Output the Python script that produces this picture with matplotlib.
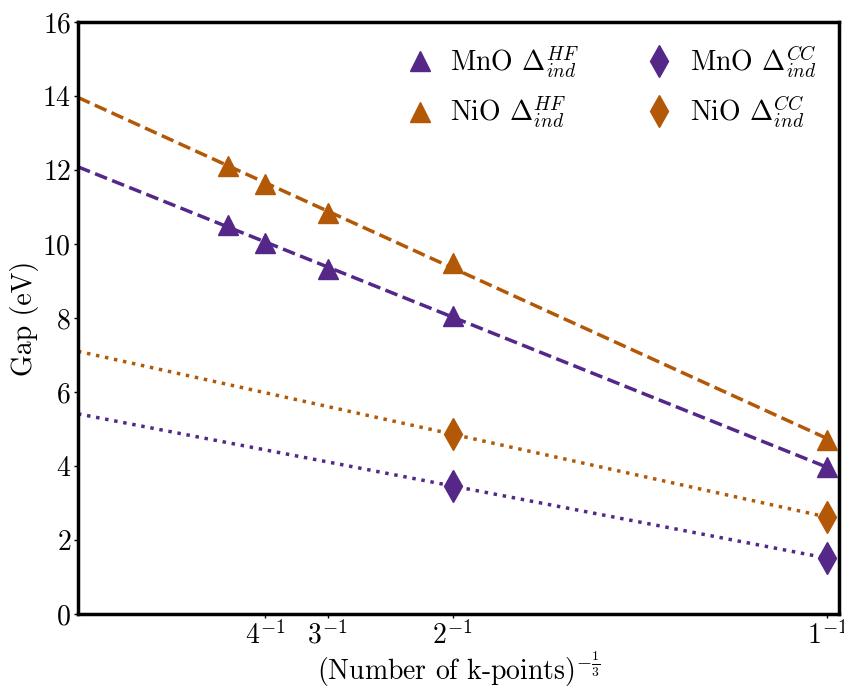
import numpy as np
import matplotlib
matplotlib.use("Agg")
import matplotlib.pyplot as plt

plt.rcParams['font.family'] = 'serif'
plt.rcParams['font.serif'] = ['cmr10']
plt.rcParams['mathtext.fontset'] = 'cm'
plt.rcParams['axes.formatter.use_mathtext'] = True

x_hf = [1/5, 1/4, 1/3, 1/2, 1/1]
mno_hf = [10.52, 10.03, 9.32, 8.05, 3.97]
nio_hf = [12.10, 11.62, 10.84, 9.50, 4.70]
x_cc = [1/2, 1/1]
mno_cc = [3.46, 1.51]
nio_cc = [4.86, 2.62]

xticks = [1/4, 1/3, 1/2, 1/1]
xticklabels = [r'$4^{-1}$', r'$3^{-1}$', r'$2^{-1}$', r'$1^{-1}$']

purple = '#542788'
orange = '#b35806'

fig = plt.figure(figsize=(8.44, 6.86), dpi=100)
ax = fig.add_axes([78/844, 72/686, 761/844, 592/686])

xl = np.array([0.0, 1.0])
for xs, ys, c, ls in [(x_hf, mno_hf, purple, '--'), (x_hf, nio_hf, orange, '--'),
                      (x_cc, mno_cc, purple, ':'), (x_cc, nio_cc, orange, ':')]:
    p = np.polyfit(xs, ys, 1)
    ax.plot(xl, np.polyval(p, xl), color=c, ls=ls, lw=2.5, zorder=1)

ax.plot(x_hf, mno_hf, '^', color=purple, ms=15, ls='none', label=r'MnO $\Delta^{HF}_{ind}$', zorder=3)
ax.plot(x_hf, nio_hf, '^', color=orange, ms=15, ls='none', label=r'NiO $\Delta^{HF}_{ind}$', zorder=3)
ax.plot(x_cc, mno_cc, 'd', color=purple, ms=16, ls='none', label=r'MnO $\Delta^{CC}_{ind}$', zorder=3)
ax.plot(x_cc, nio_cc, 'd', color=orange, ms=16, ls='none', label=r'NiO $\Delta^{CC}_{ind}$', zorder=3)

ax.set_xlim(0, 1.016)
ax.set_ylim(0, 16)
ax.set_xticks(xticks)
ax.set_xticklabels(xticklabels)
ax.set_yticks(range(0, 17, 2))
ax.tick_params(labelsize=20, length=3, width=1, pad=2)
for s in ax.spines.values():
    s.set_linewidth(2.5)
ax.set_xlabel(r'(Number of k-points)$^{-\frac{1}{3}}$', fontsize=20, labelpad=0)
ax.set_ylabel('Gap (eV)', fontsize=20, labelpad=2)

ax.legend(ncol=2, frameon=False, fontsize=20, loc='upper right',
          bbox_to_anchor=(1.0, 1.0), handlelength=1.0, handletextpad=0.6,
          columnspacing=2.4, labelspacing=0.5, borderaxespad=0.4)

fig.savefig('out.png', dpi=100)
